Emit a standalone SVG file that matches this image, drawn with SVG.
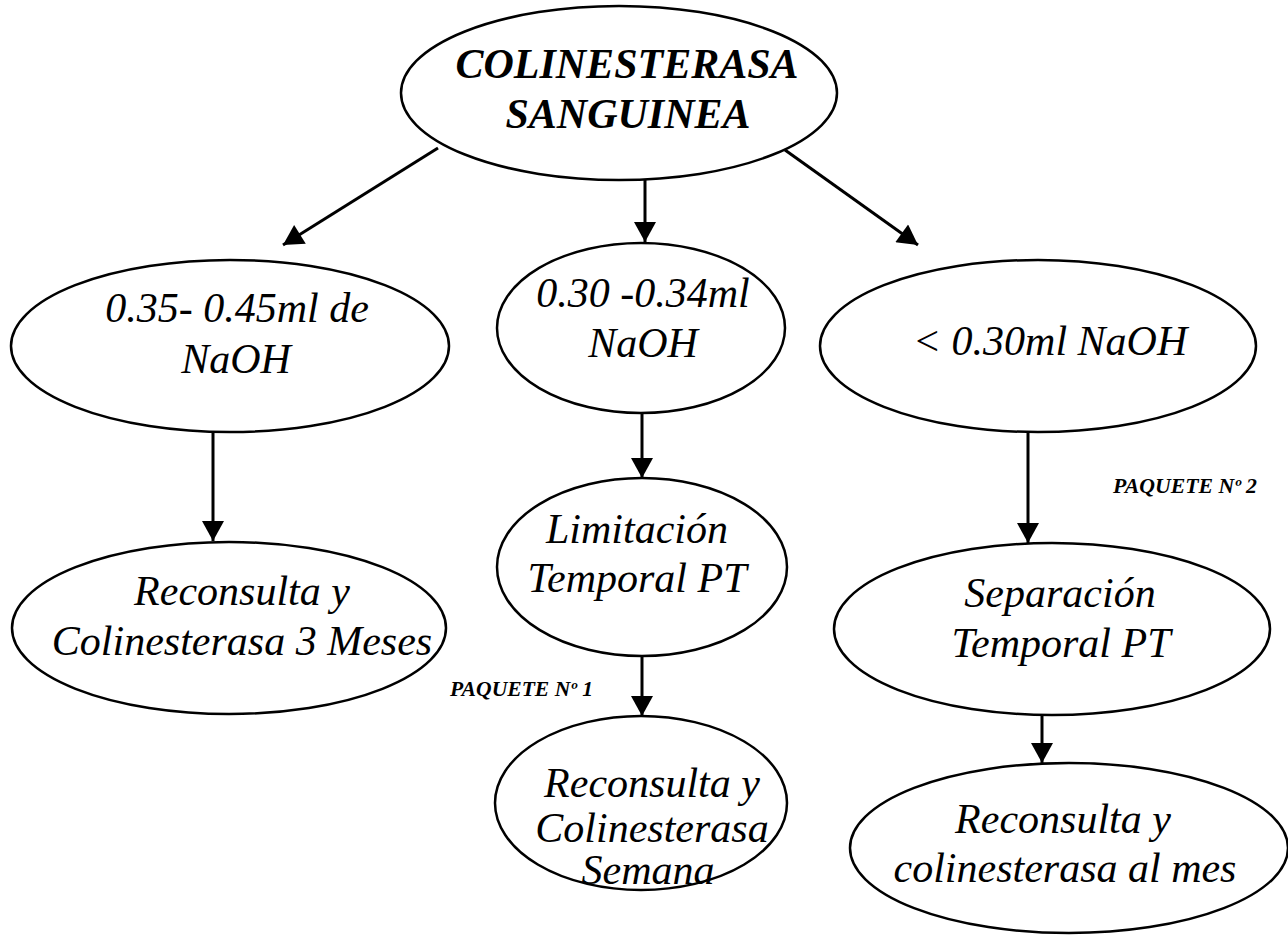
<svg xmlns="http://www.w3.org/2000/svg" width="1288" height="937" viewBox="0 0 1288 937">
<style>
.n{fill:#fff;stroke:#000;stroke-width:2.5}
.t{font-family:"Liberation Serif","Times New Roman",serif;font-style:italic;font-size:42px;fill:#000;text-anchor:middle}
.b{font-weight:bold}
.p{font-family:"Liberation Serif","Times New Roman",serif;font-style:italic;font-weight:bold;font-size:20px;fill:#000}
.c{stroke:#000;stroke-width:3;fill:none;marker-end:url(#ah)}
</style>
<defs>
<marker id="ah" markerUnits="userSpaceOnUse" markerWidth="22" markerHeight="22" viewBox="0 0 20 22" refX="20" refY="11" orient="auto">
<path d="M0,0 L20,11 L0,22 Z" fill="#000"/>
</marker>
</defs>
<rect width="1288" height="937" fill="#fff"/>
<g id="connectors">
<line class="c" x1="438" y1="148" x2="283" y2="245"/>
<line class="c" x1="645" y1="180" x2="645" y2="242"/>
<line class="c" x1="785" y1="150" x2="918" y2="245"/>
<line class="c" x1="213" y1="432" x2="213" y2="541"/>
<line class="c" x1="642" y1="413" x2="642" y2="478"/>
<line class="c" x1="1028" y1="432" x2="1028" y2="543"/>
<line class="c" x1="642" y1="655" x2="642" y2="716"/>
<line class="c" x1="1042" y1="715" x2="1042" y2="763"/>
</g>
<g id="n_top">
<ellipse class="n" cx="619" cy="93" rx="218" ry="87"/>
<text class="t b" x="627" y="78">COLINESTERASA</text>
<text class="t b" x="628" y="128">SANGUINEA</text>
</g>
<g id="n_l2_left">
<ellipse class="n" cx="230" cy="346" rx="219" ry="86"/>
<text class="t" x="237" y="322">0.35- 0.45ml de</text>
<text class="t" x="236" y="373">NaOH</text>
</g>
<g id="n_l2_mid">
<ellipse class="n" cx="641" cy="328" rx="144" ry="85"/>
<text class="t" x="643" y="307">0.30 -0.34ml</text>
<text class="t" x="643" y="357">NaOH</text>
</g>
<g id="n_l2_right">
<ellipse class="n" cx="1038" cy="346" rx="218" ry="86"/>
<text class="t" x="1050" y="355">&lt; 0.30ml NaOH</text>
</g>
<g id="n_l3_left">
<ellipse class="n" cx="229" cy="628" rx="217" ry="86"/>
<text class="t" x="242" y="605">Reconsulta y</text>
<text class="t" x="242" y="655">Colinesterasa 3 Meses</text>
</g>
<g id="n_l3_mid">
<ellipse class="n" cx="642" cy="567" rx="145" ry="89"/>
<text class="t" x="637" y="543">Limitación</text>
<text class="t" x="637" y="592">Temporal PT</text>
</g>
<g id="n_l3_right">
<ellipse class="n" cx="1052" cy="629" rx="218" ry="86"/>
<text class="t" x="1060" y="607">Separación</text>
<text class="t" x="1061" y="657">Temporal PT</text>
</g>
<g id="n_l4_mid">
<ellipse class="n" cx="641" cy="803" rx="146" ry="87"/>
<text class="t" x="652" y="797">Reconsulta y</text>
<text class="t" x="652" y="842">Colinesterasa</text>
<text class="t" x="648" y="884">Semana</text>
</g>
<g id="n_l4_right">
<ellipse class="n" cx="1069" cy="848" rx="219" ry="85"/>
<text class="t" x="1063" y="833">Reconsulta y</text>
<text class="t" x="1065" y="882">colinesterasa al mes</text>
</g>
<g id="labels">
<text class="p" x="450" y="696" textLength="143" lengthAdjust="spacingAndGlyphs">PAQUETE Nº 1</text>
<text class="p" x="1113" y="493" textLength="144" lengthAdjust="spacingAndGlyphs">PAQUETE Nº 2</text>
</g>
</svg>
